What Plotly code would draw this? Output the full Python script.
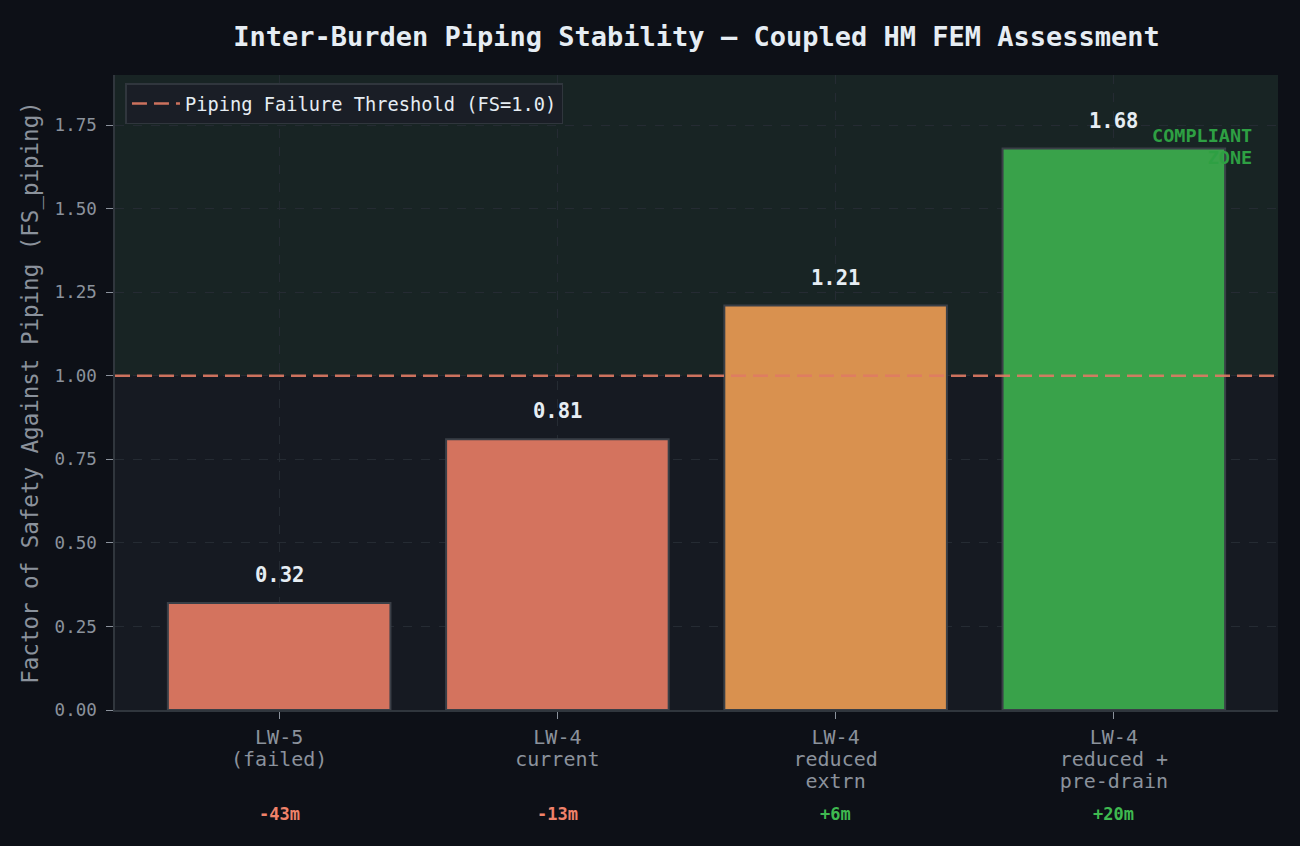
import plotly.graph_objects as go

categories = [["LW-5", "(failed)"], ["LW-4", "current"], ["LW-4", "reduced", "extrn"], ["LW-4", "reduced +", "pre-drain"]]
fs_values = [0.32, 0.81, 1.21, 1.68]
deltas = ["-43m", "-13m", "+6m", "+20m"]
bar_colors = ["#d4735e", "#d4735e", "#d9914f", "#39a24a"]
delta_colors = ["#f0826a", "#f0826a", "#3fb950", "#3fb950"]
threshold = 1.0

FONT = "DejaVu Sans Mono"
xs = list(range(len(categories)))


def big(lines, px):
    return "<br>".join(f"<span style='font-size:{px}px'>{s}</span>" for s in lines)


fig = go.Figure()

fig.add_trace(go.Bar(
    x=xs, y=fs_values, width=0.8,
    marker=dict(color=bar_colors, line=dict(color="#3a3f47", width=2)),
    showlegend=False, hoverinfo="skip",
))

fig.add_trace(go.Scatter(
    x=[-0.59, 3.59], y=[threshold, threshold], mode="lines",
    line=dict(color="#e07b64", width=2.5, dash="15px,7px"),
    name="Piping Failure Threshold (FS=1.0)", opacity=0.9,
))

fig.add_shape(type="rect", xref="paper", x0=0, x1=1, yref="y", y0=threshold, y1=1.9,
              fillcolor="rgba(46,160,67,0.08)", line=dict(width=0), layer="below")

for i, v in enumerate(fs_values):
    fig.add_annotation(x=i, y=v, text=f"<b>{v:.2f}</b>", showarrow=False, yanchor="middle",
                       yshift=28, font=dict(family=FONT, size=20.5, color="#e6edf3"))
    fig.add_annotation(x=i, xref="x", y=0, yref="paper", text=f"<b>{deltas[i]}</b>", showarrow=False,
                       yanchor="middle", yshift=-104, font=dict(family=FONT, size=17, color=delta_colors[i]))

fig.add_annotation(x=0.979, xref="paper", y=1.755, yref="y",
                   text="<b>" + big(["COMPLIANT", "ZONE"], 18.5) + "</b>",
                   showarrow=False, xanchor="right", yanchor="top", align="right",
                   font=dict(family=FONT, size=17, color="#2ea043"))

fig.update_layout(
    width=1300, height=846,
    paper_bgcolor="#0d1017", plot_bgcolor="#161a22",
    margin=dict(l=115, r=22, t=75, b=136),
    title=dict(text="<b>Inter-Burden Piping Stability — Coupled HM FEM Assessment</b>",
               x=0.5, xref="paper", xanchor="center", y=0.957, yanchor="middle",
               font=dict(family=FONT, size=27, color="#e6edf3")),
    font=dict(family=FONT, color="#8b929c"),
    legend=dict(x=0.009, y=0.987, xanchor="left", yanchor="top", itemwidth=48,
                bgcolor="#1a1e26", bordercolor="#30363d", borderwidth=1.5,
                font=dict(family=FONT, size=18.7, color="#e6edf3")),
    bargap=0.2,
)

fig.update_xaxes(
    range=[-0.59, 3.59], tickmode="array", tickvals=xs,
    ticktext=[big(c, 20) for c in categories],
    tickfont=dict(family=FONT, size=17.3, color="#8b929c"),
    ticks="outside", ticklen=7, tickcolor="#8b929c", ticklabelstandoff=4,
    showgrid=True, gridcolor="#252b33", griddash="dash", gridwidth=1,
    showline=True, linecolor="#30363d", linewidth=1.5, zeroline=False,
)
fig.update_yaxes(
    range=[0, 1.9], tickmode="array", tickvals=[0, 0.25, 0.5, 0.75, 1.0, 1.25, 1.5, 1.75],
    tickformat=".2f", tickfont=dict(family=FONT, size=17.5, color="#8b929c"),
    ticks="outside", ticklen=7, tickcolor="#8b929c", ticklabelstandoff=6,
    showgrid=True, gridcolor="#252b33", griddash="dash", gridwidth=1,
    showline=True, linecolor="#30363d", linewidth=1.5, zeroline=False,
    title=dict(text="Factor of Safety Against Piping (FS_piping)", standoff=10,
               font=dict(family=FONT, size=22.5, color="#8b929c")),
)

fig.write_html("out.html")
